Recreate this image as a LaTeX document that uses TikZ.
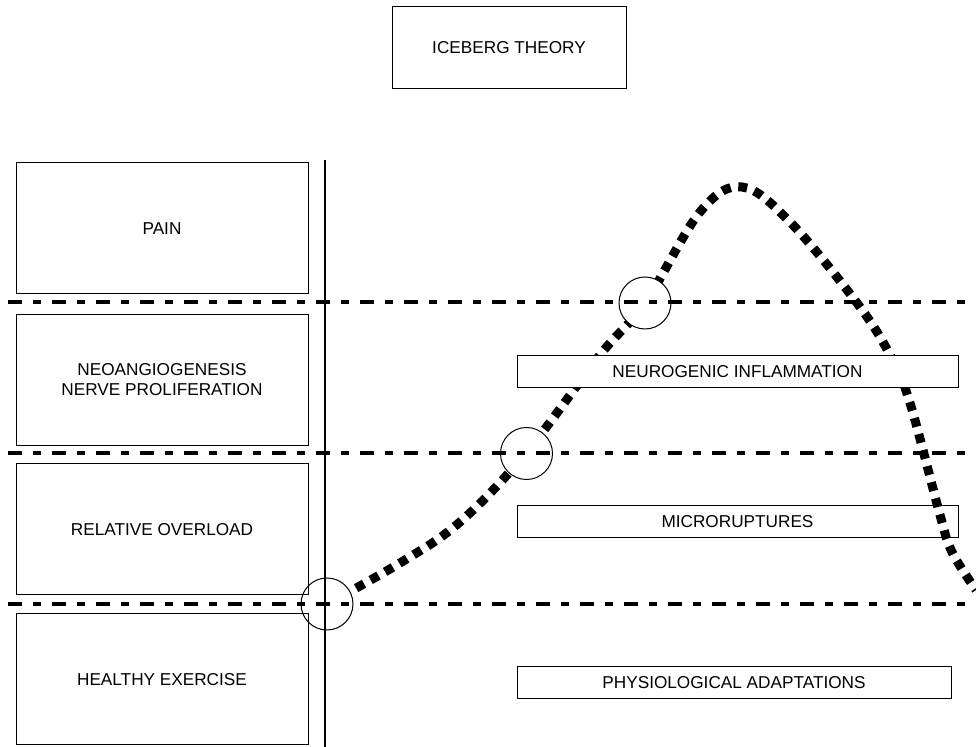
\documentclass[tikz,border=0pt]{standalone}
\usepackage{fontspec}
\setmainfont{Liberation Sans}
\begin{document}
\begin{tikzpicture}[x=0.5pt,y=-0.5pt,
    font=\fontsize{8.6pt}{10pt}\selectfont,
    stage/.style={draw,line width=0.5pt,minimum width=146pt,minimum height=65.5pt,align=center,inner sep=0pt},
    tag/.style={draw,line width=0.5pt,minimum width=220.5pt,minimum height=16pt,inner sep=0pt},
    ring/.style={circle,draw,fill=white,line width=0.5pt,minimum size=26pt,inner sep=0pt},
    level/.style={line width=2pt,dash pattern=on 7pt off 5.5pt on 4pt off 5.5pt},
    trend/.style={line width=4.5pt,dash pattern=on 4.5pt off 3.8pt}]
    \useasboundingbox (0,0) rectangle (976,747);
    \draw[trend] plot[smooth,tension=0.6] coordinates {(327,604) (400,563) (460,522) (526,453) (600,355) (645,303) (700,212) (742,187) (790,222) (857,303) (890,355) (910,403) (940,515) (952,552) (976,590)};
    \node[ring] (c1) at (327,604) {};
    \node[ring] (c2) at (526.5,453.5) {};
    \node[ring] (c3) at (645,303) {};
    \node[tag,fill=white] (neuro) at (737.5,372) {NEUROGENIC INFLAMMATION};
    \node[tag] (micro) at (737.5,522) {MICRORUPTURES};
    \node[tag,minimum width=217pt] (physio) at (734,682.5) {PHYSIOLOGICAL ADAPTATIONS};
    \coordinate (l1) at (8,302); \coordinate (r1) at (976,302);
    \coordinate (l2) at (8,453); \coordinate (r2) at (976,453);
    \coordinate (l3) at (8,604); \coordinate (r3) at (976,604);
    \draw[level] (l1)--(r1);
    \draw[level] (l2)--(r2);
    \draw[level] (l3)--(r3);
    \coordinate (vt) at (325,160); \coordinate (vb) at (325,747);
    \draw[line width=0.7pt] (vt)--(vb);
    \node[stage,minimum width=117pt,minimum height=41pt] (title) at (509,48) {ICEBERG THEORY};
    \node[stage] (pain) at (162,228.5) {PAIN};
    \node[stage] (neo) at (162,380) {NEOANGIOGENESIS\\NERVE PROLIFERATION};
    \node[stage] (over) at (162,529.5) {RELATIVE OVERLOAD};
    \node[stage] (healthy) at (162,679.5) {HEALTHY EXERCISE};
\end{tikzpicture}
\end{document}
